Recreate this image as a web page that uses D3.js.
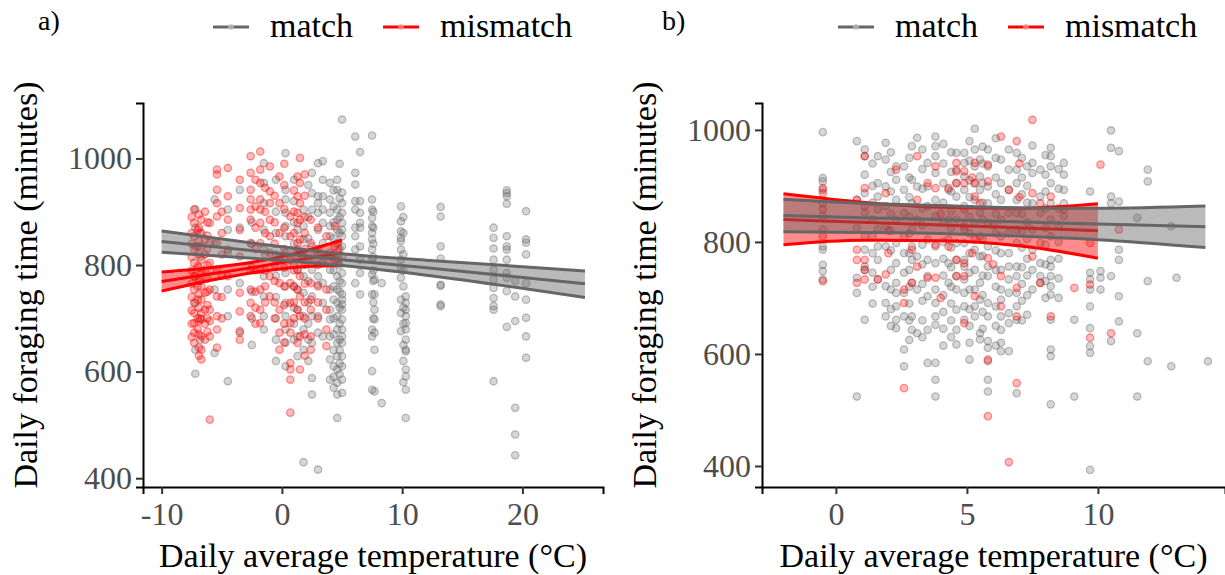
<!DOCTYPE html>
<html>
<head>
<meta charset="utf-8">
<script src="https://cdn.jsdelivr.net/npm/d3@7"></script>
<style>
  body { margin: 0; background: #fff; }
  text { font-family: "Liberation Serif", "Times New Roman", serif; }
</style>
</head>
<body>
<svg id="chart" width="1225" height="575"></svg>
<script>
// ---- data ----
// each entry: [daily average temperature, [daily foraging times]]
var matchA = [
  [-7.2, [905, 870, 835, 779, 729, 641, 596]],
  [-6.8, [860, 815, 770, 700, 660]],
  [-5.6, [923, 841, 754, 635]],
  [-4.5, [904, 866, 823, 754, 704, 582]],
  [-3.5, [941, 870, 766, 673]],
  [-2.5, [880, 840, 795, 750, 700, 650]],
  [-1.5, [991, 954, 916, 866, 829, 779, 741, 704, 679]],
  [-0.5, [960, 900, 860, 820, 780, 740, 700, 660, 620]],
  [0.3, [1010, 941, 923, 898, 873, 854, 823, 785, 760, 729, 704, 679, 654, 610]],
  [1.0, [960, 920, 880, 840, 800, 760, 720, 690, 660]],
  [1.3, [866, 829, 791, 754, 716, 666, 629]],
  [1.8, [904, 873, 848, 816, 779, 748, 704, 679, 641, 430]],
  [2.2, [950, 890, 850, 810, 770, 730, 690, 660, 620]],
  [2.5, [973, 935, 904, 835, 791, 741, 704, 654, 588, 557]],
  [3.0, [991, 929, 916, 898, 866, 823, 779, 763, 704, 673, 416]],
  [3.4, [995, 960, 929, 904, 879, 841, 804, 766, 729, 666]],
  [4.0, [954, 923, 898, 873, 854, 823, 791, 754, 716, 698, 666, 623, 585]],
  [4.3, [940, 910, 880, 850, 820, 790, 760, 735, 700, 670, 640, 610, 590, 570]],
  [4.6, [960, 941, 904, 885, 866, 841, 804, 779, 754, 729, 704, 679, 654, 629, 604, 579, 557, 513]],
  [4.8, [990, 925, 890, 860, 830, 800, 770, 750, 720, 690, 660, 640, 615, 595]],
  [5.0, [1073, 936, 916, 898, 879, 866, 854, 835, 816, 785, 766, 745, 735, 726, 716, 698, 679, 666, 654, 629, 610, 585, 560]],
  [6.1, [1041, 973, 951, 920, 904, 870, 854, 829, 766]],
  [6.5, [1012, 920, 898, 879, 870, 835, 810, 785, 745]],
  [7.5, [1043, 923, 904, 888, 873, 860, 848, 829, 810, 782, 745, 679, 666, 601, 566]],
  [7.6, [900, 870, 840, 815, 790, 770, 730, 700]],
  [7.7, [773, 745, 716, 698, 673, 641, 563]],
  [8.3, [766, 541]],
  [9.9, [910, 882, 863, 851, 845, 829, 810, 795, 776, 735, 710, 676]],
  [10.1, [890, 860, 820, 790, 760, 720, 690, 650, 620, 580]],
  [10.3, [741, 729, 716, 704, 691, 679, 660, 641, 638, 604, 591, 566, 513]],
  [13.2, [909, 891, 835, 812, 763, 761, 726, 723]],
  [17.6, [870, 851, 831, 810, 791, 773, 757, 738, 723, 716, 582]],
  [18.7, [940, 935, 929, 915, 854, 835, 829, 810, 785, 776, 751, 684]],
  [19.4, [770, 741, 695, 532, 482, 443]],
  [20.3, [901, 848, 842, 820, 766, 735, 701, 666, 626]]
];
var mismatchA = [
  [-7.5, [890, 860, 840, 815, 790, 765, 740, 715, 690, 665]],
  [-7.3, [904, 879, 854, 829, 804, 779, 754, 729, 710, 691, 673, 654]],
  [-7.0, [866, 835, 798, 760, 735, 700, 680]],
  [-6.9, [895, 870, 845, 820, 795, 770, 745, 720, 695, 670, 645, 630]],
  [-6.7, [885, 860, 835, 810, 785, 760, 735, 710, 698, 666, 641, 623]],
  [-6.4, [900, 848, 820, 790, 748, 716, 690, 660]],
  [-6.2, [880, 855, 830, 800, 775, 750, 725, 700, 675]],
  [-6.0, [879, 841, 804, 754, 716, 695, 666, 510]],
  [-5.4, [979, 970, 941, 916, 891, 841, 791, 741, 704, 679, 645]],
  [-5.0, [900, 860, 820, 780, 740, 700]],
  [-4.5, [982, 929, 885, 829, 779]],
  [-3.5, [960, 907, 866, 816, 748, 713, 676, 660]],
  [-2.6, [1004, 973, 941, 923, 904, 885, 841, 791, 754, 729, 704]],
  [-2.2, [960, 910, 870, 830, 790, 750, 720, 690]],
  [-1.8, [1013, 979, 954, 923, 904, 879, 841, 791, 754, 716, 691]],
  [-1.4, [945, 900, 860, 820, 790, 760, 730]],
  [-1.0, [985, 938, 916, 885, 854, 823, 779, 741]],
  [-0.6, [930, 880, 840, 800, 770, 730, 700]],
  [-0.2, [966, 916, 860, 816, 766, 716, 673, 641]],
  [0.2, [990, 950, 905, 870, 830, 795, 760, 725, 690, 655]],
  [0.7, [891, 854, 810, 766, 729, 691, 673, 616, 604, 585, 523]],
  [1.0, [940, 900, 860, 825, 790, 760, 730, 700]],
  [1.3, [966, 929, 898, 879, 841, 791, 754, 716, 654]],
  [1.5, [1001, 954, 916, 885, 848, 823, 779, 741, 704, 666, 604]],
  [1.9, [970, 930, 890, 860, 830, 800, 765, 730, 700, 670, 630]],
  [2.4, [885, 841, 766, 735, 716, 666, 641]],
  [3.0, [870, 830, 800, 760, 730, 700]],
  [3.7, [854, 754, 716, 679, 648]],
  [4.4, [873, 835, 810]]
];
var matchB = [
  [-0.5, [996, 914, 908, 893, 869, 846, 822, 792, 786, 759, 748, 733]],
  [0.8, [980, 875, 825, 736, 709, 524]],
  [1.1, [965, 953, 920, 887, 852, 810, 786, 756, 750, 661]],
  [1.4, [940, 900, 870, 840, 810, 780, 745, 720, 690]],
  [1.6, [953, 905, 881, 858, 822, 792, 768, 733]],
  [1.9, [977, 947, 899, 864, 828, 792, 721, 691, 667]],
  [2.1, [960, 925, 890, 850, 820, 785, 750, 715, 680, 650]],
  [2.3, [935, 911, 875, 840, 798, 762, 727, 709, 685, 661, 646]],
  [2.6, [935, 893, 852, 810, 780, 745, 709, 667, 608, 578]],
  [2.8, [950, 915, 880, 845, 815, 780, 750, 720, 690, 660, 625]],
  [2.9, [971, 911, 869, 822, 792, 768, 727, 667, 643]],
  [3.1, [986, 899, 840, 774, 715, 637]],
  [3.3, [965, 930, 895, 860, 830, 795, 760, 725, 695, 660, 630]],
  [3.5, [941, 899, 864, 804, 768, 739, 703, 643, 584]],
  [3.8, [988, 971, 953, 923, 875, 846, 792, 762, 715, 691, 667, 652, 584, 554, 524]],
  [4.1, [975, 940, 905, 870, 835, 800, 770, 740, 705, 675, 645, 615]],
  [4.3, [893, 840, 804, 762, 727]],
  [4.4, [960, 925, 890, 855, 825, 790, 755, 720, 690, 660, 630]],
  [4.6, [959, 929, 905, 881, 840, 798, 768, 739, 715, 679, 643, 617]],
  [4.9, [959, 941, 917, 893, 864, 822, 798, 768, 756, 733, 709, 685, 661]],
  [5.1, [980, 945, 910, 880, 845, 815, 780, 745, 715, 680, 650, 620, 590]],
  [5.3, [1002, 965, 935, 905, 875, 834, 786, 750, 715, 685, 667]],
  [5.5, [947, 917, 893, 852, 810, 774, 727, 697, 637, 626]],
  [5.6, [970, 940, 905, 870, 840, 805, 775, 740, 705, 675, 645]],
  [5.8, [965, 935, 899, 869, 834, 792, 756, 739, 691, 667, 623, 611, 587, 554, 533]],
  [6.1, [985, 950, 915, 885, 850, 815, 785, 750, 720, 685, 650, 615]],
  [6.3, [947, 905, 875, 840, 810, 780, 750, 715, 697, 667, 643, 620, 605]],
  [6.6, [965, 929, 893, 852, 816, 780, 756, 733, 709, 673, 655, 605]],
  [6.9, [959, 929, 905, 875, 852, 822, 798, 756, 739, 709, 685, 661, 530]],
  [7.1, [950, 915, 885, 850, 820, 790, 755, 725, 695, 660]],
  [7.3, [935, 900, 870, 835, 805, 770, 740, 705, 670]],
  [7.5, [972, 941, 923, 869, 822, 786, 750, 715]],
  [7.8, [929, 881, 852, 798, 762, 739, 727]],
  [8.0, [955, 920, 890, 860, 825, 795, 760, 730, 700]],
  [8.2, [968, 953, 935, 905, 869, 840, 810, 768, 756, 739, 721, 706, 661, 608, 596, 510]],
  [8.5, [930, 895, 860, 830, 800, 770, 735, 700]],
  [8.7, [941, 920, 893, 869, 846]],
  [9.1, [661, 524]],
  [9.7, [890, 745, 733, 715, 685, 646, 614, 602, 393]],
  [10.1, [748, 736, 715]],
  [10.5, [999, 968, 881, 869, 739, 623]],
  [10.8, [962, 872, 786, 768, 703, 658]],
  [11.5, [843, 637, 524]],
  [11.9, [929, 908, 730, 587]],
  [12.8, [828, 578]],
  [13.0, [736]],
  [14.2, [587]]
];
var mismatchB = [
  [-0.5, [896, 887, 858, 810, 730]],
  [0.8, [875, 786, 768, 727]],
  [1.1, [953, 896, 864, 768, 750, 733]],
  [1.6, [733]],
  [1.9, [887, 742]],
  [2.0, [820, 780]],
  [2.3, [929]],
  [2.6, [715, 691, 539]],
  [2.9, [786, 727]],
  [3.1, [953, 875, 756]],
  [3.5, [905, 736]],
  [3.8, [935, 896, 795, 736]],
  [4.0, [850, 700]],
  [4.3, [896, 792]],
  [4.6, [941, 926, 905, 768, 739]],
  [4.9, [926, 905, 858, 828, 762, 739, 655]],
  [5.2, [915, 780]],
  [5.3, [941, 905, 881, 804, 703]],
  [5.5, [869]],
  [5.8, [938, 908, 771, 590, 489]],
  [6.0, [830, 760]],
  [6.3, [988, 739, 685]],
  [6.6, [893, 407]],
  [6.9, [980, 718, 667, 548]],
  [7.0, [940, 880]],
  [7.5, [1018, 887, 774]],
  [7.8, [869, 727]],
  [8.2, [881, 667]],
  [8.7, [858]],
  [9.1, [718]],
  [9.7, [798, 724, 629]],
  [10.1, [938]],
  [10.5, [637]],
  [10.8, [822]]
];

// fitted lines with confidence bands
var fitMatchA_t = [-10, -2, 5, 12, 25.2];
var fitMatchA = [844, 826, 810, 795, 765];
var fitMatchA_lo = [824, 812, 799, 781, 739];
var fitMatchA_hi = [864, 840, 821, 809, 789];

var fitMisA_t = [-10, -6, -2, 2, 5];
var fitMisA = [769, 783, 797, 812, 823];
var fitMisA_lo = [751, 771, 787, 797, 799];
var fitMisA_hi = [787, 795, 807, 827, 847];

var fitMatchB_t = [-2, 1, 4, 6, 10, 14.1];
var fitMatchB = [847, 843, 840, 837, 832, 827];
var fitMatchB_lo = [818, 817, 815, 812, 804, 790];
var fitMatchB_hi = [876, 869, 865, 862, 860, 864];

var fitMisB_t = [-2, 1, 4, 7, 10];
var fitMisB = [840, 835, 830, 825, 820];
var fitMisB_lo = [795, 803, 802, 793, 771];
var fitMisB_hi = [886, 871, 862, 860, 868];

var xTicksA = [-10, 0, 10, 20];
var xTicksB = [0, 5, 10];
var yTicks = [400, 600, 800, 1000];

var GREY = "#666666", RED = "#ff0000";

var svg = d3.select("#chart");

function flat(cols) {
  return cols.flatMap(function(c) {
    return c[1].map(function(v) { return { t: c[0], v: v }; });
  });
}

function band(ts, fit, lo, hi) {
  return ts.map(function(t, i) { return { t: t, f: fit[i], lo: lo[i], hi: hi[i] }; });
}

function drawPanel(p) {
  var g = svg.append("g");
  var x = d3.scaleLinear().domain(p.xDom).range([p.left, p.right]);
  var y = d3.scaleLinear().domain(p.yDom).range([487, 103]);

  // points
  var series = [{ d: flat(p.match), c: GREY }, { d: flat(p.mismatch), c: RED }];
  series.forEach(function(s) {
    g.append("g").selectAll("circle")
      .data(s.d)
      .enter()
      .append("circle")
      .attr("cx", function(d) { return x(d.t); })
      .attr("cy", function(d) { return y(d.v); })
      .attr("r", 3.7)
      .attr("fill", s.c)
      .attr("fill-opacity", 0.27)
      .attr("stroke", s.c)
      .attr("stroke-opacity", 0.4)
      .attr("stroke-width", 1.3);
  });

  // smooths: mismatch first, match on top
  var fits = [{ d: p.fitMis, c: RED }, { d: p.fitMatch, c: GREY }];
  fits.forEach(function(f) {
    var area = d3.area()
      .x(function(d) { return x(d.t); })
      .y0(function(d) { return y(d.lo); })
      .y1(function(d) { return y(d.hi); })
      .curve(d3.curveMonotoneX);
    g.append("path").datum(f.d)
      .attr("d", area)
      .attr("fill", f.c)
      .attr("fill-opacity", 0.45);
    ["lo", "f", "hi"].forEach(function(k) {
      var line = d3.line()
        .x(function(d) { return x(d.t); })
        .y(function(d) { return y(d[k]); })
        .curve(d3.curveMonotoneX);
      g.append("path").datum(f.d)
        .attr("d", line)
        .attr("fill", "none")
        .attr("stroke", f.c)
        .attr("stroke-width", 3);
    });
  });

  // axes
  var xAxis = g.append("g")
    .attr("transform", "translate(0,487)")
    .call(d3.axisBottom(x).tickValues(p.xTicks).tickSize(7).tickPadding(8).tickFormat(d3.format("d")));
  var yAxis = g.append("g")
    .attr("transform", "translate(" + p.left + ",0)")
    .call(d3.axisLeft(y).tickValues(yTicks).tickSize(7).tickPadding(4).tickFormat(d3.format("d")));
  [xAxis, yAxis].forEach(function(a) {
    a.attr("font-family", null);
    a.select(".domain").attr("stroke", "#000").attr("stroke-width", 2);
    a.selectAll(".tick line").attr("stroke", "#333").attr("stroke-width", 2);
    a.selectAll(".tick text")
      .attr("fill", "#4d4d4d")
      .style("font-size", "32px")
      .style("font-family", "'Liberation Serif', serif");
  });
  xAxis.selectAll(".tick text").text(function(d) { return d < 0 ? "-" + Math.abs(d) : d; });

  // titles
  g.append("text")
    .attr("x", (p.left + p.right) / 2)
    .attr("y", 567)
    .attr("text-anchor", "middle")
    .style("font-size", "34px")
    .text("Daily average temperature (°C)");
  g.append("text")
    .attr("transform", "translate(" + (p.left - 106) + ",285) rotate(-90)")
    .attr("text-anchor", "middle")
    .style("font-size", "34px")
    .text("Daily foraging time (minutes)");
  g.append("text")
    .attr("x", p.tagX)
    .attr("y", 30)
    .style("font-size", "28px")
    .text(p.tag);

  // legend
  var leg = [{ k: "match", c: GREY, x: p.legX }, { k: "mismatch", c: RED, x: p.legX + 170 }];
  leg.forEach(function(l) {
    g.append("line")
      .attr("x1", l.x).attr("x2", l.x + 36)
      .attr("y1", 27).attr("y2", 27)
      .attr("stroke", l.c).attr("stroke-width", 3);
    g.append("circle")
      .attr("cx", l.x + 18).attr("cy", 27).attr("r", 3)
      .attr("fill", "#ffffff").attr("fill-opacity", 0.6);
    g.append("circle")
      .attr("cx", l.x + 18).attr("cy", 27).attr("r", 3)
      .attr("fill", l.c).attr("fill-opacity", 0.3);
    g.append("text")
      .attr("x", l.x + 57)
      .attr("y", 37)
      .style("font-size", "34px")
      .text(l.k);
  });
}

drawPanel({
  left: 143, right: 603,
  xDom: [-11.55, 26.7], yDom: [383.5, 1104],
  xTicks: xTicksA,
  match: matchA, mismatch: mismatchA,
  fitMatch: band(fitMatchA_t, fitMatchA, fitMatchA_lo, fitMatchA_hi),
  fitMis: band(fitMisA_t, fitMisA, fitMisA_lo, fitMisA_hi),
  tag: "a)", tagX: 38, legX: 213
});

drawPanel({
  left: 762, right: 1225,
  xDom: [-2.82, 14.85], yDom: [362.5, 1048],
  xTicks: xTicksB,
  match: matchB, mismatch: mismatchB,
  fitMatch: band(fitMatchB_t, fitMatchB, fitMatchB_lo, fitMatchB_hi),
  fitMis: band(fitMisB_t, fitMisB, fitMisB_lo, fitMisB_hi),
  tag: "b)", tagX: 662, legX: 838
});
</script>
</body>
</html>
